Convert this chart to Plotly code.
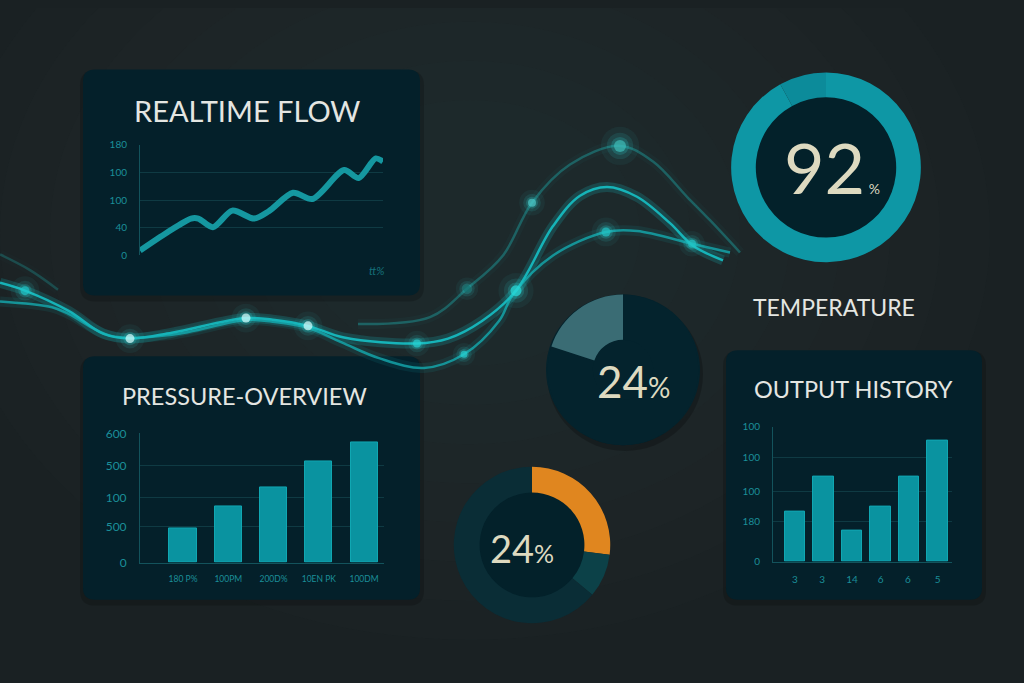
import plotly.graph_objects as go

# ---- data ----
flow_x = [0, 11, 21, 24, 30, 38, 47, 53, 63, 71, 84, 90, 97, 100]
flow_y = [8, 37, 60, 60, 46, 73, 60, 72, 102, 92, 139, 126, 158, 153]
flow_tickvals = [0, 45, 90, 135, 180]
flow_ticktext = ["0", "40", "100", "100", "180"]

pressure_cats = ["180 P%", "100PM", "200D%", "10EN PK", "100DM"]
pressure_vals = [159, 259, 350, 468, 559]
pressure_tickvals = [0, 168, 300, 450, 600]
pressure_ticktext = ["0", "500", "100", "500", "600"]

output_cats = ["3", "3 ", "14", "6", "6 ", "5"]
output_vals = [37, 63, 23, 41, 63, 90]
output_tickvals = [0, 30, 52, 77, 100]
output_ticktext = ["0", "180", "100", "100", "100"]

temp_vals = [92, 8]
mid_vals = [80, 20]
bottom_vals = [27, 9, 64]

# background glowing waves (picture pixels)
wave_main_x = [0, 25, 69, 103, 130, 172, 246, 275, 308, 344, 417, 448, 482, 516, 553, 580, 607, 637, 670, 693, 723]
wave_main_y = [281, 289, 310, 333, 338, 332, 317, 319, 325, 337, 343, 338, 320, 289, 223, 192, 183, 193, 220, 243, 258]
wave_low_x = [0, 52, 69, 110, 172, 246, 275, 308, 344, 379, 424, 464, 499, 513, 553, 606, 637, 692, 730]
wave_low_y = [300, 306, 313, 335, 334, 319, 321, 327, 343, 358, 368, 354, 320, 293, 253, 229, 228, 241, 250]
wave_top_x = [358, 430, 467, 503, 532, 570, 620, 653, 687, 710, 740]
wave_top_y = [323, 316, 287, 253, 199, 160, 141, 157, 193, 217, 250]
wave_edge_x = [0, 30, 58]
wave_edge_y = [252, 268, 288]

dot_x = [25, 130, 246, 308, 417, 464, 467, 516, 532, 606, 620, 692]
dot_y = [289, 338, 317, 325, 343, 354, 287, 289, 199, 229, 141, 241]
dot_size = [9, 9, 9, 9, 8, 7, 7, 11, 8, 9, 12, 8]
dot_color = ["#1fc4c8", "#d8ffff", "#d8ffff", "#d8ffff", "#27d0d2", "#27d0d2",
             "#15706f", "#2ad8d8", "#4fc9c9", "#22c3c5", "#3fbcb8", "#22c3c5"]

W, H = 1024, 683
BG = "#1a2123"
PANEL = "#04202a"
TEAL = "#0a93a0"
TICK = "#1b8f99"
GRID = "#0f3a43"
AXLINE = "#13535c"
CREAM = "#dedac0"
TITLE = "#e4e6e2"


def rrect(x0, y0, x1, y1, r):
    return (f"M{x0+r},{y0} L{x1-r},{y0} Q{x1},{y0} {x1},{y0+r} "
            f"L{x1},{y1-r} Q{x1},{y1} {x1-r},{y1} L{x0+r},{y1} "
            f"Q{x0},{y1} {x0},{y1-r} L{x0},{y0+r} Q{x0},{y0} {x0+r},{y0} Z")


def dom_x(a, b):
    return [a / W, b / W]


def dom_y(top, bottom):
    return [1 - bottom / H, 1 - top / H]


fig = go.Figure()

# waves on the full-page pixel axis
for wx, wy, col, glow in [
    (wave_top_x, wave_top_y, "rgba(30,150,150,0.5)", 0.10),
    (wave_edge_x, wave_edge_y, "rgba(30,150,150,0.35)", 0.05),
    (wave_low_x, wave_low_y, "rgba(20,170,175,0.8)", 0.14),
    (wave_main_x, wave_main_y, "#16b3b8", 0.22),
]:
    fig.add_trace(go.Scatter(x=wx, y=wy, mode="lines", line=dict(color=col, width=10, shape="spline"),
                             opacity=glow, hoverinfo="skip", showlegend=False, xaxis="x", yaxis="y"))
    fig.add_trace(go.Scatter(x=wx, y=wy, mode="lines", line=dict(color=col, width=2.5, shape="spline"),
                             hoverinfo="skip", showlegend=False, xaxis="x", yaxis="y"))

for k, op in [(3.2, 0.06), (2.2, 0.12), (1.5, 0.2)]:
    fig.add_trace(go.Scatter(x=dot_x, y=dot_y, mode="markers",
                             marker=dict(size=[s * k for s in dot_size], color="#2fd6d6", opacity=op,
                                         line=dict(width=0)),
                             hoverinfo="skip", showlegend=False, xaxis="x", yaxis="y"))
fig.add_trace(go.Scatter(x=dot_x, y=dot_y, mode="markers",
                         marker=dict(size=dot_size, color=dot_color, line=dict(width=0)),
                         hoverinfo="skip", showlegend=False, xaxis="x", yaxis="y"))

# realtime flow
fig.add_trace(go.Scatter(x=flow_x, y=flow_y, mode="lines", cliponaxis=False,
                         line=dict(color="#1597a0", width=6, shape="spline", smoothing=0.8),
                         showlegend=False, xaxis="x2", yaxis="y2"))

# pressure overview
fig.add_trace(go.Bar(x=pressure_cats, y=pressure_vals, width=0.6,
                     marker=dict(color=TEAL, line=dict(color="#10a7b2", width=1)),
                     showlegend=False, xaxis="x3", yaxis="y3"))

# output history
fig.add_trace(go.Bar(x=output_cats, y=output_vals, width=0.72,
                     marker=dict(color=TEAL, line=dict(color="#10a7b2", width=1)),
                     showlegend=False, xaxis="x4", yaxis="y4"))

# donuts
fig.add_trace(go.Pie(values=temp_vals, hole=0.74, sort=False, direction="clockwise",
                     marker=dict(colors=["#0e97a5", "#0c8b9a"], line=dict(width=0)),
                     textinfo="none", hoverinfo="skip", showlegend=False,
                     domain=dict(x=dom_x(729, 923), y=dom_y(66, 260))))
fig.add_trace(go.Pie(values=mid_vals, hole=0.4, sort=False, direction="clockwise",
                     marker=dict(colors=["#04232d", "#3a6c74"], line=dict(width=0)),
                     textinfo="none", hoverinfo="skip", showlegend=False,
                     domain=dict(x=dom_x(546, 700), y=dom_y(293, 447))))
fig.add_trace(go.Pie(values=bottom_vals, hole=0.67, sort=False, direction="clockwise",
                     marker=dict(colors=["#e0861f", "#0c4148", "#0a2d36"], line=dict(width=0)),
                     textinfo="none", hoverinfo="skip", showlegend=False,
                     domain=dict(x=dom_x(452, 612), y=dom_y(469, 629))))

shapes = []
# soft radial light in the background
for r in range(520, 120, -50):
    shapes.append(dict(type="circle", xref="x", yref="y", x0=470 - r, x1=470 + r, y0=230 - r * 0.8,
                       y1=230 + r * 0.8, fillcolor="rgba(60,75,75,0.035)", line=dict(width=0),
                       layer="below"))
# panels with shadows
for x0, y0, x1, y1 in [(83, 63, 420, 294), (83, 356, 420, 605), (726, 350, 982, 605)]:
    shapes.append(dict(type="path", xref="x", yref="y", path=rrect(x0 - 3, y0 + 1, x1 + 4, y1 + 6, 15),
                       fillcolor="rgba(0,0,0,0.18)", line=dict(width=0), layer="below"))
    shapes.append(dict(type="path", xref="x", yref="y", path=rrect(x0, y0, x1, y1, 12),
                       fillcolor=PANEL, line=dict(width=0), layer="below"))
# donut shadows and centres
shapes.append(dict(type="circle", xref="x", yref="y", x0=547, x1=703, y0=296, y1=453,
                   fillcolor="rgba(0,0,0,0.22)", line=dict(width=0), layer="below"))
shapes.append(dict(type="circle", xref="x", yref="y", x0=546, x1=700, y0=293, y1=447,
                   fillcolor="#04232d", line=dict(width=0), layer="below"))
shapes.append(dict(type="circle", xref="x", yref="y", x0=754, x1=898, y0=91, y1=235,
                   fillcolor="#03212a", line=dict(width=0), layer="below"))
shapes.append(dict(type="circle", xref="x", yref="y", x0=477, x1=587, y0=494, y1=604,
                   fillcolor="#03212a", line=dict(width=0), layer="below"))

ann = []


def txt(x, y, s, size, color, **kw):
    ann.append(dict(x=x, y=y, xref="x", yref="y", text=s, showarrow=False,
                    font=dict(family="Lato", size=size, color=color), **kw))


txt(247, 105, "REALTIME FLOW", 29, TITLE)
txt(244, 397, "PRESSURE-OVERVIEW", 23.5, TITLE)
txt(853, 390, "OUTPUT HISTORY", 23.5, TITLE)
txt(834, 306, "TEMPERATURE", 23, TITLE)
txt(376, 268, "<i>tt%</i>", 11, "#15707a")
txt(832, 163, "92<span style='font-size:14px'> %</span>", 70, CREAM)
txt(634, 381, "24<span style='font-size:28px'>%</span>", 44, CREAM)
txt(522, 552, "24<span style='font-size:25px'>%</span>", 38, CREAM)

tickfont = dict(family="Lato", size=10, color=TICK)

fig.update_layout(
    width=W, height=H, margin=dict(l=0, r=0, t=0, b=0),
    paper_bgcolor=BG, plot_bgcolor="rgba(0,0,0,0)",
    shapes=shapes, annotations=ann, bargap=0,
    xaxis=dict(domain=[0, 1], range=[0, W], visible=False, fixedrange=True),
    yaxis=dict(domain=[0, 1], range=[H, 0], visible=False, fixedrange=True),
    xaxis2=dict(domain=dom_x(140, 383), range=[0, 100], anchor="y2", showgrid=False,
                showticklabels=False, zeroline=False),
    yaxis2=dict(domain=dom_y(140, 253), range=[0, 180], anchor="x2", tickvals=flow_tickvals,
                ticktext=flow_ticktext, gridcolor=GRID, showline=True, linecolor=AXLINE,
                zeroline=False, tickfont=tickfont, ticklabelstandoff=10),
    xaxis3=dict(domain=dom_x(140, 384), range=[-0.95, 4.44], anchor="y3", showgrid=False,
                showline=True, linecolor=AXLINE, tickfont=dict(family="Lato", size=8.5, color=TICK),
                ticklabelstandoff=8),
    yaxis3=dict(domain=dom_y(435, 567), range=[0, 600], anchor="x3", tickvals=pressure_tickvals,
                ticktext=pressure_ticktext, gridcolor=GRID, showline=True, linecolor=AXLINE,
                zeroline=False, tickfont=dict(family="Lato", size=12, color=TICK), ticklabelstandoff=10),
    xaxis4=dict(domain=dom_x(773, 952), range=[-0.77, 5.5], anchor="y4", showgrid=False,
                showline=True, linecolor=AXLINE, tickfont=dict(family="Lato", size=10, color=TICK),
                ticklabelstandoff=8),
    yaxis4=dict(domain=dom_y(428, 566), range=[0, 100], anchor="x4", tickvals=output_tickvals,
                ticktext=output_ticktext, gridcolor=GRID, showline=True, linecolor=AXLINE,
                zeroline=False, tickfont=tickfont, ticklabelstandoff=10),
)

fig.write_html("out.html", config={"displayModeBar": False},
               post_script="document.body.style.margin='0';document.body.style.background='#1a2123';")
